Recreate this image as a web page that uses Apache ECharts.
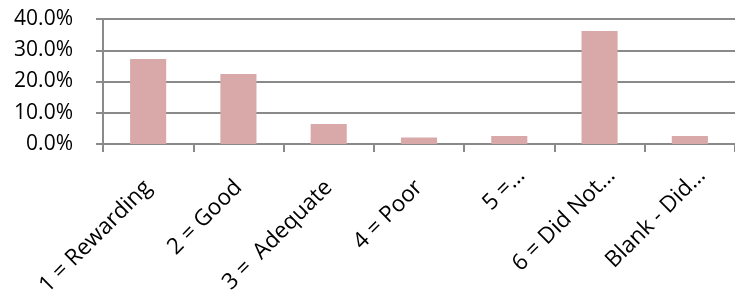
<!DOCTYPE html>
<html>
<head>
<meta charset="utf-8">
<style>
html,body{margin:0;padding:0;background:#fff;}
#chart{width:735px;height:301px;}
</style>
<script src="https://cdn.jsdelivr.net/npm/echarts@6/dist/echarts.min.js"></script>
</head>
<body>
<div id="chart"></div>
<script>
var categories = ['1 = Rewarding', '2 = Good', '3 =  Adequate', '4 = Poor', '5 =…', '6 = Did Not…', 'Blank - Did…'];
var values = [27.2, 22.4, 6.4, 2.1, 2.6, 36.2, 2.6];
var truncated = [false, false, false, false, true, true, true];

var chart = echarts.init(document.getElementById('chart'), null, {renderer: 'canvas'});
var FONT = 'Open Sans';
var GRID = '#8a8a8a';

chart.setOption({
  animation: false,
  grid: {left: 103, top: 19, width: 633, height: 125, containLabel: false},
  xAxis: {
    type: 'category',
    data: categories.map(function (c, i) {
      return truncated[i] ? {value: c, textStyle: {padding: [0, -17, -14, 0]}} : c;
    }),
    boundaryGap: true,
    axisLine: {lineStyle: {color: GRID, width: 2}},
    axisTick: {show: true, inside: false, length: 8, lineStyle: {color: GRID, width: 2}},
    axisLabel: {interval: 0, rotate: 45, margin: 40, fontFamily: FONT, fontSize: 22.5, color: '#000'}
  },
  yAxis: {
    type: 'value',
    min: 0, max: 40, interval: 10,
    axisLine: {show: true, lineStyle: {color: GRID, width: 2}},
    axisTick: {show: true, inside: false, length: 7, lineStyle: {color: GRID, width: 2}},
    splitLine: {show: true, lineStyle: {color: GRID, width: 2}},
    axisLabel: {margin: 30, fontFamily: FONT, fontSize: 21, color: '#000',
      formatter: function (v) { return v.toFixed(1) + '%'; }}
  },
  series: [{
    type: 'bar',
    data: values,
    barWidth: '40%',
    itemStyle: {color: '#D9A9AA'}
  }]
});
</script>
</body>
</html>
